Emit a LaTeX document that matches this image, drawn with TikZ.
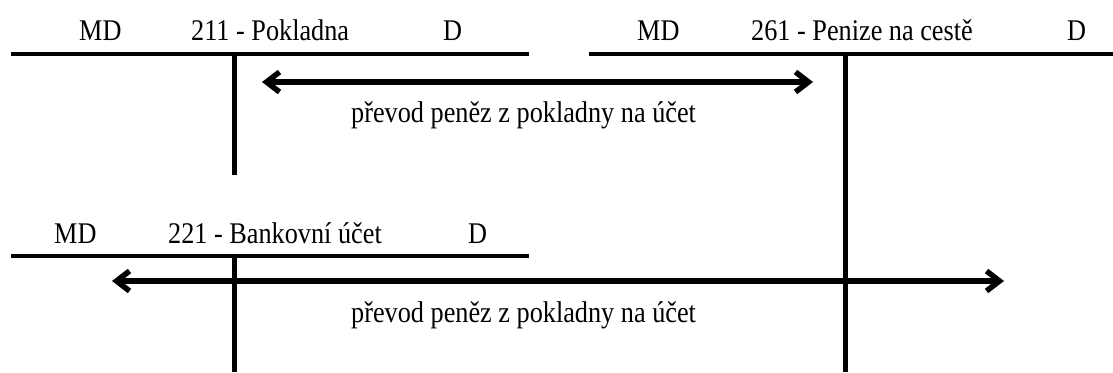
\documentclass[tikz,border=0pt]{standalone}
\usepackage{fontspec}
\setmainfont{Liberation Serif}[FakeStretch=0.875]
\usetikzlibrary{arrows.meta}
\begin{document}
\begin{tikzpicture}[x=1pt,y=-1pt,
  lbl/.style={inner sep=0pt,anchor=base west,font=\fontsize{30}{32}\selectfont},
  flowtext/.style={inner sep=0pt,anchor=base west,font=\fontsize{30}{32}\selectfont},
  hline/.style={line width=4.2pt},
  vline/.style={line width=5pt},
  barb/.tip={Straight Barb[length=13pt,width=20pt,line width=5.5pt]},
  flow/.style={line width=5.5pt,barb-barb}]
\useasboundingbox (0,0) rectangle (1113,372);
% account 211
\coordinate (a1l) at (11,54);
\coordinate (a1r) at (529,54);
\coordinate (a1t) at (234,54);
\coordinate (a1b) at (234,175);
\draw[hline] (a1l) -- (a1r);
\draw[vline] (a1t) -- (a1b);
\node[lbl] (a1md) at (79,40.7) {MD};
\node[lbl] (a1n) at (191,40.7) {211 - Pokladna};
\node[lbl] (a1d) at (443,40.7) {D};
% account 261
\coordinate (a2l) at (589,54);
\coordinate (a2r) at (1113,54);
\coordinate (a2t) at (845,54);
\coordinate (a2b) at (845,372);
\draw[hline] (a2l) -- (a2r);
\draw[vline] (a2t) -- (a2b);
\node[lbl] (a2md) at (637,40.7) {MD};
\node[lbl] (a2n) at (751,40.7) {261 - Penize na cestě};
\node[lbl] (a2d) at (1067,40.7) {D};
% account 221
\coordinate (a3l) at (11,256);
\coordinate (a3r) at (529,256);
\coordinate (a3t) at (234,256);
\coordinate (a3b) at (234,372);
\draw[hline] (a3l) -- (a3r);
\draw[vline] (a3t) -- (a3b);
\node[lbl] (a3md) at (54,243) {MD};
\node[lbl] (a3n) at (168,243) {221 - Bankovní účet};
\node[lbl] (a3d) at (468,243) {D};
% transfers
\coordinate (f1a) at (262,82);
\coordinate (f1b) at (813,82);
\draw[flow] (f1a) -- (f1b);
\node[flowtext] (f1t) at (351,122) {převod peněz z pokladny na účet};
\coordinate (f2a) at (112,281);
\coordinate (f2b) at (1004,281);
\draw[flow] (f2a) -- (f2b);
\node[flowtext] (f2t) at (351,322) {převod peněz z pokladny na účet};
\end{tikzpicture}
\end{document}
